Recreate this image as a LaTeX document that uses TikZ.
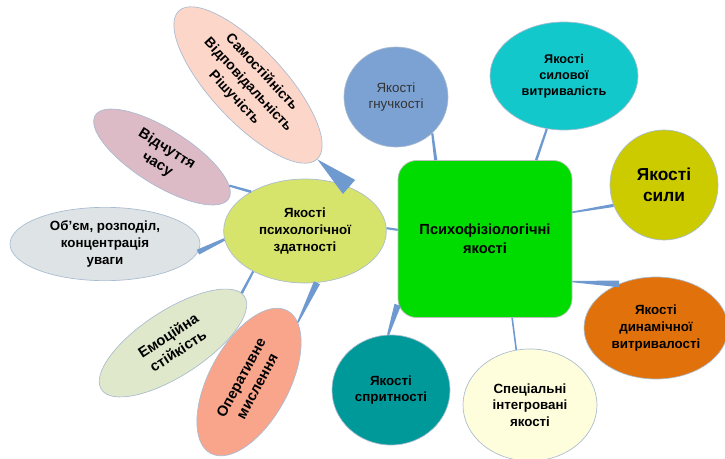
\documentclass[tikz,border=0pt]{standalone}
\usepackage{fontspec}
\setmainfont{Liberation Sans}
\usetikzlibrary{shapes.geometric,calc}
\definecolor{mainc}{HTML}{00DC00}
\definecolor{psyc}{HTML}{D7E46C}
\definecolor{samc}{HTML}{FCD6C9}
\definecolor{vidc}{HTML}{DCBAC6}
\definecolor{obmc}{HTML}{DEE4E6}
\definecolor{emoc}{HTML}{DFE8CB}
\definecolor{operc}{HTML}{F9A58C}
\definecolor{gnuc}{HTML}{7CA2D3}
\definecolor{silc}{HTML}{13C8CB}
\definecolor{silyc}{HTML}{CBCB00}
\definecolor{dync}{HTML}{E1720B}
\definecolor{specc}{HTML}{FEFEDC}
\definecolor{sprc}{HTML}{00999A}
\definecolor{connc}{HTML}{6F9AD0}
\definecolor{bordc}{HTML}{A9BBD0}
\newcommand\conn[4]{\fill[connfill] ($(#1)!#3!90:(#2)$) -- ($(#2)!#4!-90:(#1)$) -- ($(#2)!#4!90:(#1)$) -- ($(#1)!#3!-90:(#2)$) -- cycle;}
\begin{document}
\begin{tikzpicture}[x=0.75pt,y=-0.75pt,
  bub/.style={ellipse, draw=bordc, line width=0.5pt, inner sep=0pt, align=center,
    font=\bfseries\fontsize{10}{12.5}\selectfont, text=black},
  connfill/.style={fill=connc}]
\useasboundingbox (0,0) rectangle (725,458);
\node[rectangle, rounded corners=14pt, draw=black!25, line width=0.5pt, fill=mainc,
  minimum width=130.5pt, minimum height=117.75pt, align=center,
  font=\bfseries\fontsize{11}{14}\selectfont] (main) at (485,239) {Психофізіологічні\\якості};
\node[bub, fill=psyc, minimum width=122pt, minimum height=78pt,
  font=\bfseries\fontsize{10}{13}\selectfont] (psy) at (305,231) {Якості\\психологічної\\здатності};
\node[bub, fill=samc, rotate=-47, minimum width=152pt, minimum height=55pt,
  font=\bfseries\fontsize{10.5}{14}\selectfont] (sam) at (248,85) {Самостійність\\Відповідальність\\Рішучість};
\node[bub, fill=vidc, rotate=-32, minimum width=118pt, minimum height=42pt,
  font=\bfseries\fontsize{11}{13.5}\selectfont] (vid) at (162,157) {Відчуття\\часу};
\node[bub, fill=obmc, minimum width=142.5pt, minimum height=55pt,
  font=\bfseries\fontsize{10}{13}\selectfont] (obm) at (105,244) {Об’єм, розподіл,\\концентрація\\уваги};
\node[bub, fill=emoc, rotate=33, minimum width=128pt, minimum height=49pt,
  font=\bfseries\fontsize{11}{13.5}\selectfont] (emo) at (173,343) {Емоційна\\стійкість};
\node[bub, fill=operc, rotate=61.7, minimum width=121.5pt, minimum height=60pt,
  font=\bfseries\fontsize{11}{13.5}\selectfont] (oper) at (249,382) {Оперативне\\мислення};
\node[bub, fill=gnuc, minimum width=78pt, minimum height=75pt,
  font=\fontsize{10}{12.5}\selectfont, text=black!80] (gnu) at (396,97) {Якості\\гнучкості};
\node[bub, fill=silc, minimum width=111pt, minimum height=81pt,
  font=\bfseries\fontsize{9.5}{12}\selectfont] (sil) at (564,76) {Якості\\силової\\витривалість};
\node[bub, fill=silyc, minimum width=81pt, minimum height=82.5pt,
  font=\bfseries\fontsize{13}{16}\selectfont] (sily) at (664,185) {Якості\\сили};
\node[bub, fill=dync, minimum width=108pt, minimum height=76.5pt] (dyn) at (656,328) {Якості\\динамічної\\витривалості};
\node[bub, fill=specc, minimum width=100.5pt, minimum height=84pt] (spec) at (530,405) {Спеціальні\\інтегровані\\якості};
\node[bub, fill=sprc, minimum width=88.5pt, minimum height=82.5pt] (spr) at (391,390) {Якості\\спритності};
\conn{sam.east}{psy.45}{0pt}{7pt}
\conn{vid.9}{psy.144}{0.8pt}{1pt}
\conn{obm.-5}{psy.186}{2pt}{1pt}
\conn{emo.3}{psy.218}{1pt}{0.8pt}
\conn{oper.-11}{psy.-77}{0.6pt}{2.5pt}
\conn{psy.2}{main.174}{0.8pt}{0.8pt}
\conn{gnu.-45}{main.122}{0.8pt}{1.2pt}
\conn{sil.-108}{main.57}{0.8pt}{1pt}
\conn{sily.202}{main.17}{1.2pt}{0.6pt}
\conn{dyn.130}{main.-26}{2.5pt}{0.5pt}
\conn{spec.104}{main.-71}{0.6pt}{0.6pt}
\conn{spr.93}{main.-143}{0.8pt}{2.5pt}
\end{tikzpicture}
\end{document}
